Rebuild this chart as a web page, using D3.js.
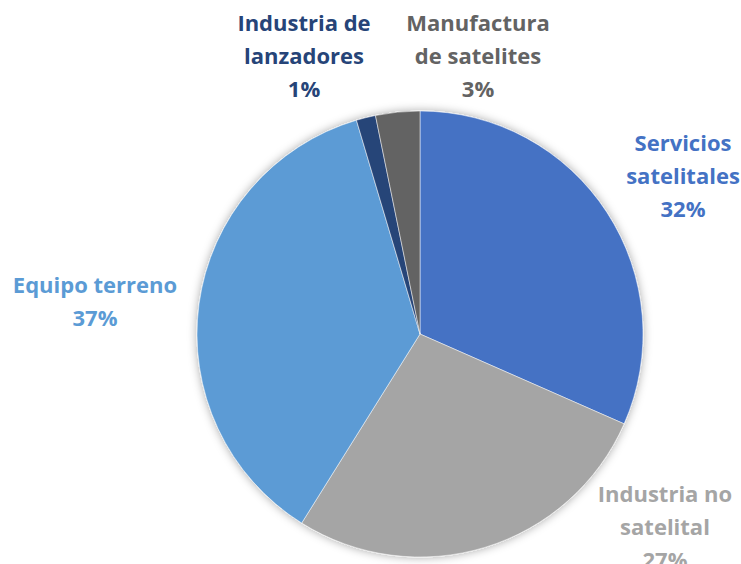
<html>
<head>
<script src="https://cdn.jsdelivr.net/npm/d3@7"></script>
<style>
  body { margin: 0; background: #fff; }
  .lbl { font-family: "Open Sans", Lato, sans-serif; font-weight: bold; font-size: 22px; }
</style>
</head>
<body>
<script>
let w = 741, h = 564
let cx = 420, cy = 334, radius = 223

// slices, clockwise from 12 o'clock
let categories = ["Servicios satelitales", "Industria no satelital", "Equipo terreno", "Industria de lanzadores", "Manufactura de satelites"]
let values = [31.6, 27.3, 36.5, 1.4, 3.2]
let pctLabels = ["32%", "27%", "37%", "1%", "3%"]
let labelLines = [["Servicios", "satelitales"], ["Industria no", "satelital"], ["Equipo terreno"], ["Industria de", "lanzadores"], ["Manufactura", "de satelites"]]
let colors = ["#4472C4", "#A5A5A5", "#5B9BD5", "#264478", "#636363"]
let labelPos = [[683, 151], [665, 502], [95, 293], [304, 31], [478, 31]]

let svg = d3.select("body").append("svg").attr("width", w).attr("height", h)

let defs = svg.append("defs")
let f = defs.append("filter").attr("id", "sh").attr("x", "-20%").attr("y", "-20%").attr("width", "140%").attr("height", "140%")
f.append("feDropShadow").attr("dx", 0).attr("dy", 0).attr("stdDeviation", 5)
  .attr("flood-color", "#000").attr("flood-opacity", 0.35)

let data = categories.map((c, i) => ({name: c, value: values[i], i: i}))
let pie = d3.pie().value(d => d.value).sort(null)
let arc = d3.arc().innerRadius(0).outerRadius(radius)

let g = svg.append("g").attr("transform", "translate(" + cx + "," + cy + ")").attr("filter", "url(#sh)")
g.selectAll("path").data(pie(data)).enter().append("path")
  .attr("d", arc)
  .attr("fill", d => colors[d.data.i])
  .attr("stroke", "#fff").attr("stroke-width", 0.5)

// labels
data.forEach((d, i) => {
  let lines = labelLines[i].concat([pctLabels[i]])
  let t = svg.append("text").attr("class", "lbl").attr("text-anchor", "middle")
    .attr("fill", colors[i])
  lines.forEach((s, k) => {
    t.append("tspan").attr("x", labelPos[i][0]).attr("y", labelPos[i][1] + k * 33).text(s)
  })
})
</script>
</body>
</html>
